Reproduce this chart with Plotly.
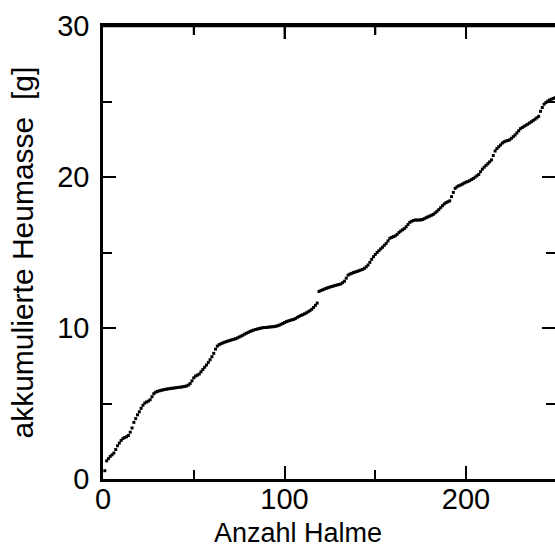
import plotly.graph_objects as go

halme = list(range(1, 251))
masse = [
    0.55, 1.20, 1.35, 1.50, 1.60, 1.72, 1.95, 2.20, 2.38, 2.55,
    2.68, 2.75, 2.80, 2.88, 3.10, 3.38, 3.75, 4.00, 4.25, 4.45,
    4.68, 4.88, 5.03, 5.10, 5.16, 5.25, 5.45, 5.65, 5.75, 5.80,
    5.84, 5.87, 5.90, 5.93, 5.95, 5.97, 5.99, 6.01, 6.02, 6.04,
    6.06, 6.07, 6.09, 6.11, 6.13, 6.16, 6.22, 6.32, 6.50, 6.70,
    6.82, 6.88, 6.95, 7.10, 7.25, 7.40, 7.55, 7.72, 7.90, 8.10,
    8.32, 8.60, 8.80, 8.90, 8.96, 9.01, 9.06, 9.10, 9.14, 9.18,
    9.22, 9.25, 9.29, 9.34, 9.40, 9.46, 9.52, 9.59, 9.65, 9.71,
    9.77, 9.82, 9.86, 9.90, 9.93, 9.96, 9.99, 10.02, 10.03, 10.04,
    10.05, 10.07, 10.08, 10.09, 10.11, 10.14, 10.18, 10.24, 10.30, 10.36,
    10.42, 10.46, 10.50, 10.54, 10.57, 10.62, 10.70, 10.77, 10.83, 10.88,
    10.94, 11.00, 11.07, 11.15, 11.24, 11.36, 11.50, 11.65, 12.42, 12.48,
    12.53, 12.58, 12.63, 12.67, 12.71, 12.75, 12.78, 12.82, 12.85, 12.88,
    12.92, 13.00, 13.10, 13.30, 13.50, 13.57, 13.62, 13.67, 13.71, 13.75,
    13.79, 13.84, 13.88, 13.95, 14.05, 14.17, 14.35, 14.55, 14.72, 14.87,
    15.00, 15.12, 15.24, 15.35, 15.48, 15.60, 15.77, 15.94, 16.00, 16.05,
    16.10, 16.20, 16.32, 16.42, 16.50, 16.58, 16.70, 16.85, 17.00, 17.06,
    17.12, 17.15, 17.15, 17.15, 17.16, 17.18, 17.24, 17.30, 17.36, 17.41,
    17.47, 17.53, 17.62, 17.73, 17.84, 17.97, 18.10, 18.22, 18.30, 18.36,
    18.42, 18.70, 18.98, 19.25, 19.35, 19.42, 19.47, 19.53, 19.60, 19.66,
    19.70, 19.76, 19.83, 19.90, 19.99, 20.08, 20.17, 20.35, 20.52, 20.65,
    20.77, 20.88, 21.00, 21.13, 21.42, 21.72, 21.88, 22.00, 22.12, 22.25,
    22.33, 22.38, 22.42, 22.46, 22.56, 22.67, 22.78, 22.92, 23.06, 23.20,
    23.28, 23.36, 23.43, 23.50, 23.58, 23.66, 23.74, 23.83, 23.92, 24.02,
    24.35, 24.60, 24.82, 24.93, 25.02, 25.10, 25.15, 25.20, 25.25, 25.32,
]

x_ticks = [0, 100, 200]
x_minor_ticks = [50, 150]
y_ticks = [0, 10, 20, 30]
x_title = "Anzahl Halme"
y_title = "akkumulierte Heumasse  [g]"

FONT = "Liberation Sans, Arial, Helvetica, sans-serif"
PLOT_H = 557 - 26 - 78

fig = go.Figure()
fig.add_trace(go.Scatter(
    x=halme, y=masse, mode="markers",
    marker=dict(symbol="square", size=3, color="black", line=dict(width=0)),
    showlegend=False, hoverinfo="skip",
))
# invisible companion trace so that the right-hand tick axis is drawn
fig.add_trace(go.Scatter(
    x=halme, y=masse, mode="none", xaxis="x", yaxis="y2",
    showlegend=False, hoverinfo="skip",
))

common = dict(ticks="inside", ticklen=13, tickwidth=2, tickcolor="black",
              showgrid=False, zeroline=False, linecolor="black", linewidth=2.5)
minor_x = dict(dtick=50, ticks="inside", ticklen=9, tickwidth=2, tickcolor="black", showgrid=False)
minor_y = dict(dtick=5, ticks="inside", ticklen=9, tickwidth=2, tickcolor="black", showgrid=False)

# top frame line and top ticks, placed through the axis scales
shapes = [dict(type="line", xref="paper", yref="y", x0=-0.003, x1=1, y0=30, y1=30,
               line=dict(color="black", width=2.5), layer="above")]
for t in x_ticks[1:]:
    shapes.append(dict(type="line", xref="x", yref="paper", x0=t, x1=t,
                       y0=1, y1=1 - 13 / PLOT_H, line=dict(color="black", width=2), layer="above"))
for t in x_minor_ticks:
    shapes.append(dict(type="line", xref="x", yref="paper", x0=t, x1=t,
                       y0=1, y1=1 - 9 / PLOT_H, line=dict(color="black", width=2), layer="above"))

fig.update_layout(
    width=555, height=557,
    margin=dict(l=103, r=0, t=26, b=78),
    paper_bgcolor="white", plot_bgcolor="white",
    font=dict(family=FONT, color="black", size=29),
    xaxis=dict(range=[0, 249], tickvals=x_ticks, showline=True, mirror="ticks", minor=minor_x,
               tickfont=dict(size=29), ticklabelstandoff=-8, **common),
    yaxis=dict(range=[0, 30], tickvals=y_ticks, showline=True, minor=minor_y,
               tickfont=dict(size=29), ticklabelstandoff=5, **common),
    yaxis2=dict(overlaying="y", anchor="x", side="right", range=[0, 30], tickvals=y_ticks,
                showticklabels=False, showline=False, minor=minor_y, **common),
    shapes=shapes,
    annotations=[
        dict(text=x_title, xref="paper", yref="paper", x=0.431, y=-0.119,
             xanchor="center", yanchor="middle", showarrow=False,
             font=dict(size=27, family=FONT, color="black")),
        dict(text=y_title, xref="paper", yref="paper", x=-0.177, y=0.5,
             xanchor="center", yanchor="middle", showarrow=False, textangle=-90,
             font=dict(size=30, family=FONT, color="black")),
    ],
)

fig.write_html("out.html", config={"displayModeBar": False},
               post_script="document.body.style.margin='0';document.body.style.overflow='hidden';")
